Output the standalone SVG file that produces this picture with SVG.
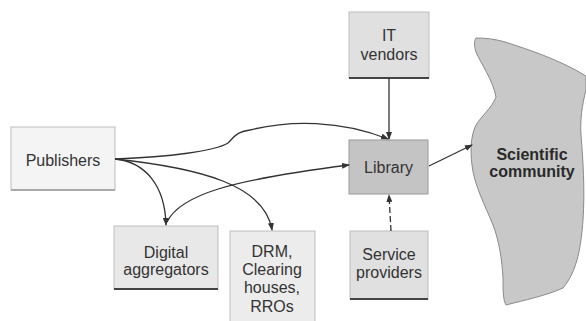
<svg xmlns="http://www.w3.org/2000/svg" width="586" height="321" viewBox="0 0 586 321">
<defs>
<marker id="ah" markerWidth="8" markerHeight="6" refX="7" refY="3" orient="auto" markerUnits="userSpaceOnUse">
<path d="M0,0 L8,3 L0,6 Z" fill="#333"/>
</marker>
<style>
.lbl{font-family:"Liberation Sans",Arial,sans-serif;font-size:16px;fill:#333;text-anchor:middle}
.bold{font-weight:bold;fill:#2a2a2a}
.box{stroke:#bdbdbd;stroke-width:1}
.base{stroke:#444;stroke-width:2}
.conn{fill:none;stroke:#333;stroke-width:1.3;marker-end:url(#ah)}
</style>
</defs>
<rect width="586" height="321" fill="#ffffff"/>

<g id="scientific-community">
<path d="M476,38 C485,38 495,39 505,42 C530,50 560,60 586,76 L586,90 C582,105 580,120 581,135 C583,160 585,190 583,220 C581,245 578,270 563,288 C545,296 525,300 506,305 C503,300 503,290 503,278 C502,260 499,240 493,225 C485,205 474,185 472,165 C470,150 471,135 476,125 C482,115 492,108 496,97 C493,80 480,62 476,52 C474,46 474,41 476,38 Z" fill="#c8c8c8" stroke="#8a8a8a" stroke-width="1"/>
<text class="lbl bold" x="532" y="160">Scientific</text>
<text class="lbl bold" x="532" y="177">community</text>
</g>

<g id="publishers">
<rect class="box" x="11" y="127" width="104" height="63" fill="#f4f4f4"/>
<line x1="11" y1="190" x2="115" y2="190" stroke="#999" stroke-width="1.5"/>
<text class="lbl" x="63" y="166">Publishers</text>
</g>

<g id="digital-aggregators">
<rect class="box" x="114" y="226" width="104" height="63" fill="#e8e8e8"/>
<line class="base" x1="114" y1="289" x2="218" y2="289" stroke="#666" stroke-width="1.5"/>
<text class="lbl" x="166" y="258">Digital</text>
<text class="lbl" x="166" y="275">aggregators</text>
</g>

<g id="drm">
<rect class="box" x="230" y="231" width="85" height="92" fill="#ececec"/>
<text class="lbl" x="272" y="257">DRM,</text>
<text class="lbl" x="272" y="275">Clearing</text>
<text class="lbl" x="272" y="293">houses,</text>
<text class="lbl" x="272" y="312">RROs</text>
</g>

<g id="it-vendors">
<rect class="box" x="349" y="12" width="80" height="66" fill="#e0e0e0"/>
<line class="base" x1="349" y1="78" x2="429" y2="78"/>
<text class="lbl" x="389" y="41">IT</text>
<text class="lbl" x="389" y="60">vendors</text>
</g>

<g id="library">
<rect x="349" y="140" width="79" height="54" fill="#c4c4c4" stroke="#9a9a9a" stroke-width="1"/>
<text class="lbl" x="388.5" y="173">Library</text>
</g>

<g id="service-providers">
<rect class="box" x="350" y="231" width="78" height="68" fill="#e0e0e0"/>
<line class="base" x1="350" y1="299" x2="428" y2="299"/>
<text class="lbl" x="389" y="260">Service</text>
<text class="lbl" x="389" y="278">providers</text>
</g>

<g id="connectors">
<path class="conn" d="M389,78 L389,139"/>
<path class="conn" d="M115,159 C170,157 215,151 228,143 C234,137 236,132 250,130 C290,120 340,120 388,139"/>
<path class="conn" d="M167,222 C180,195 230,180 349,165"/>
<path class="conn" d="M115,159 C145,162 165,185 166,225"/>
<path class="conn" d="M115,159 C200,168 265,185 272,230"/>
<path class="conn" d="M391,231 L389,195" stroke-dasharray="6,3"/>
<path class="conn" d="M429,166 L472,145"/>
</g>
</svg>
